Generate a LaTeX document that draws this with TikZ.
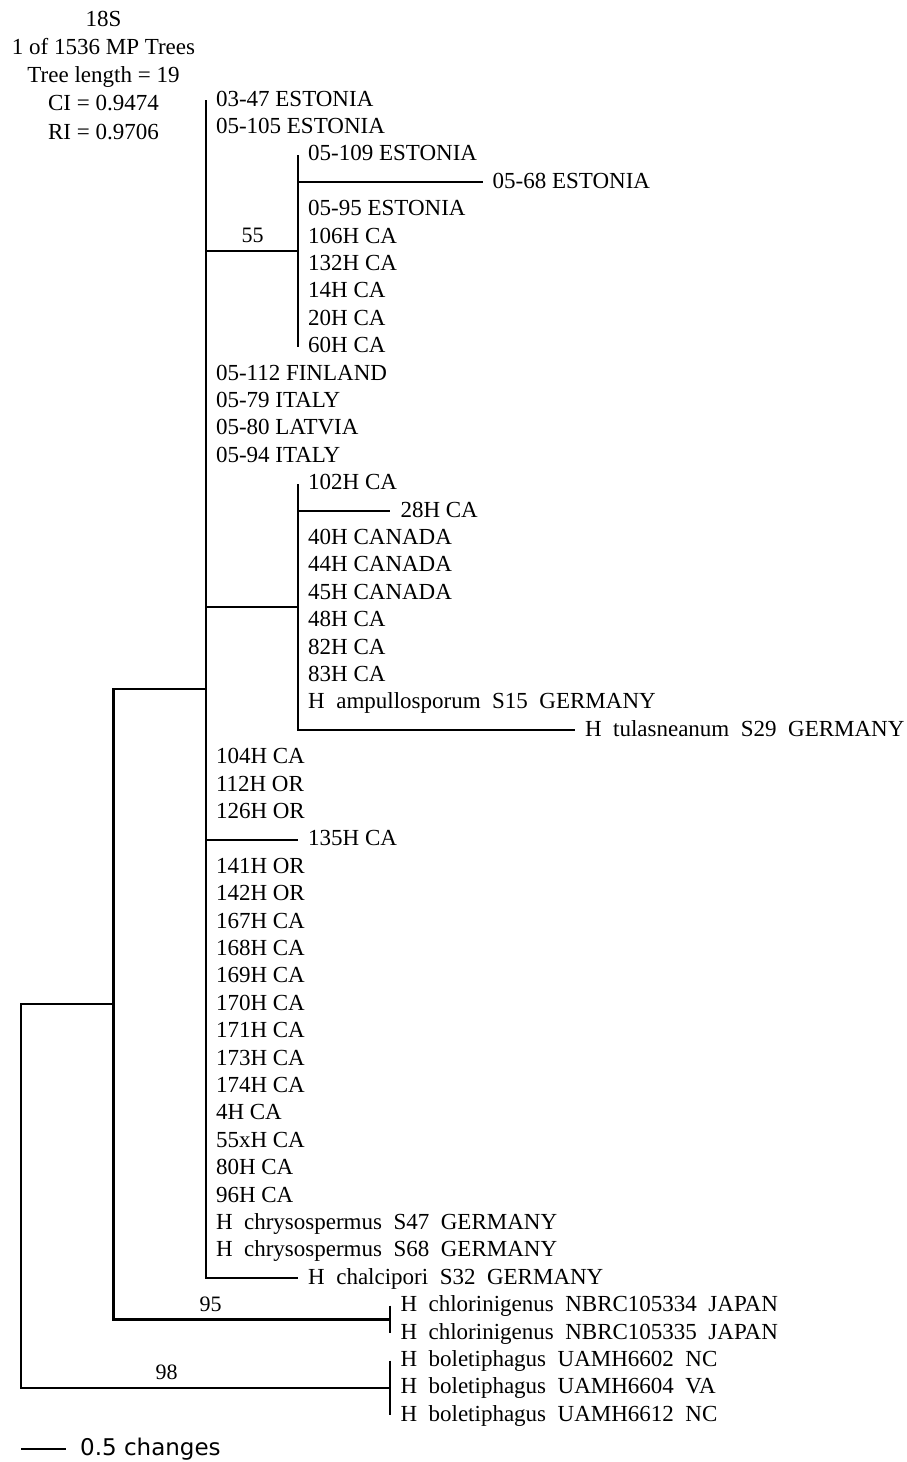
\documentclass[tikz,border=0pt]{standalone}
\usepackage{fontspec}
\setmainfont{Liberation Serif}
\newfontfamily\barfont{DejaVu Sans}

\begin{document}
\begin{tikzpicture}[x=1pt,y=-27.4pt,
	branch/.style={line width=2.2pt},
	leaf/.style={anchor=base west,inner sep=0pt,xshift=10pt,yshift=-6pt,font=\fontsize{23}{27}\selectfont},
	boot/.style={anchor=base,inner sep=0pt,yshift=8pt,font=\fontsize{22}{26}\selectfont},
	head/.style={anchor=base,inner sep=0pt,font=\fontsize{23}{27}\selectfont}]
	\useasboundingbox (0,-2.6533) rectangle (906,50.704);
	% header
	\node[head] (hdname) at (103.5,-1.704) {18S};
	\node[head] (hdtrees) at (103.5,-0.672) {1 of 1536 MP Trees};
	\node[head] (hdlen) at (103.5,0.361) {Tree length = 19};
	\node[head] (hdci) at (103.5,1.394) {CI = 0.9474};
	\node[head] (hdri) at (103.5,2.427) {RI = 0.9706};
	% internal nodes
	\coordinate (root) at (21.3,41);
	\coordinate (ingroup) at (113.5,34);
	\coordinate (main) at (205.8,22.5);
	\coordinate (est) at (298,6.5);
	\coordinate (can) at (298,19.5);
	\coordinate (chl) at (390.3,45.5);
	\coordinate (bol) at (390.3,48);
	% tips
	\coordinate (mainTop) at (205.8,1);
	\coordinate (estTop) at (298,3);
	\coordinate (estBot) at (298,10);
	\coordinate (canTop) at (298,15);
	\coordinate (t68) at (482.5,4);
	\coordinate (t28) at (390.3,16);
	\coordinate (ttul) at (574.8,24);
	\coordinate (t135) at (298,28);
	\coordinate (tchal) at (298,44);
	\coordinate (chlTop) at (390.3,45);
	\coordinate (chlBot) at (390.3,46);
	\coordinate (bolTop) at (390.3,47);
	\coordinate (bolBot) at (390.3,49);
	% branches
	\draw[branch] (root) |- (ingroup) (root) |- (bol);
	\draw[branch] (ingroup) |- (main) (ingroup) |- (chl);
	\draw[branch] (main) -- (mainTop) (main) |- (est) (main) |- (can) (main) |- (t135) (main) |- (tchal);
	\draw[branch] (est) -- (estTop) (est) |- (t68) (est) -- (estBot);
	\draw[branch] (can) -- (canTop) (can) |- (t28) (can) |- (ttul);
	\draw[branch] (chlTop) -- (chlBot);
	\draw[branch] (bolTop) -- (bolBot);
	% support values
	\node[boot] (b55) at (252.5,6.5) {55};
	\node[boot] (b95) at (210.5,45.5) {95};
	\node[boot] (b98) at (166.5,48) {98};
	% leaves
	\node[leaf] (s0347) at (mainTop) {03-47 ESTONIA};
	\node[leaf] (s05105) at (205.8,2) {05-105 ESTONIA};
	\node[leaf] (s05109) at (estTop) {05-109 ESTONIA};
	\node[leaf] (s0568) at (t68) {05-68 ESTONIA};
	\node[leaf] (s0595) at (298,5) {05-95 ESTONIA};
	\node[leaf] (s106) at (298,6) {106H CA};
	\node[leaf] (s132) at (298,7) {132H CA};
	\node[leaf] (s14) at (298,8) {14H CA};
	\node[leaf] (s20) at (298,9) {20H CA};
	\node[leaf] (s60) at (estBot) {60H CA};
	\node[leaf] (s05112) at (205.8,11) {05-112 FINLAND};
	\node[leaf] (s0579) at (205.8,12) {05-79 ITALY};
	\node[leaf] (s0580) at (205.8,13) {05-80 LATVIA};
	\node[leaf] (s0594) at (205.8,14) {05-94 ITALY};
	\node[leaf] (s102) at (canTop) {102H CA};
	\node[leaf] (s28) at (t28) {28H CA};
	\node[leaf] (s40) at (298,17) {40H CANADA};
	\node[leaf] (s44) at (298,18) {44H CANADA};
	\node[leaf] (s45) at (298,19) {45H CANADA};
	\node[leaf] (s48) at (298,20) {48H CA};
	\node[leaf] (s82) at (298,21) {82H CA};
	\node[leaf] (s83) at (298,22) {83H CA};
	\node[leaf] (sampul) at (298,23) {H\enspace ampullosporum\enspace S15\enspace GERMANY};
	\node[leaf] (stulas) at (ttul) {H\enspace tulasneanum\enspace S29\enspace GERMANY};
	\node[leaf] (s104) at (205.8,25) {104H CA};
	\node[leaf] (s112) at (205.8,26) {112H OR};
	\node[leaf] (s126) at (205.8,27) {126H OR};
	\node[leaf] (s135) at (t135) {135H CA};
	\node[leaf] (s141) at (205.8,29) {141H OR};
	\node[leaf] (s142) at (205.8,30) {142H OR};
	\node[leaf] (s167) at (205.8,31) {167H CA};
	\node[leaf] (s168) at (205.8,32) {168H CA};
	\node[leaf] (s169) at (205.8,33) {169H CA};
	\node[leaf] (s170) at (205.8,34) {170H CA};
	\node[leaf] (s171) at (205.8,35) {171H CA};
	\node[leaf] (s173) at (205.8,36) {173H CA};
	\node[leaf] (s174) at (205.8,37) {174H CA};
	\node[leaf] (s4) at (205.8,38) {4H CA};
	\node[leaf] (s55x) at (205.8,39) {55xH CA};
	\node[leaf] (s80) at (205.8,40) {80H CA};
	\node[leaf] (s96) at (205.8,41) {96H CA};
	\node[leaf] (schrysA) at (205.8,42) {H\enspace chrysospermus\enspace S47\enspace GERMANY};
	\node[leaf] (schrysB) at (205.8,43) {H\enspace chrysospermus\enspace S68\enspace GERMANY};
	\node[leaf] (schal) at (tchal) {H\enspace chalcipori\enspace S32\enspace GERMANY};
	\node[leaf] (schlA) at (chlTop) {H\enspace chlorinigenus\enspace NBRC105334\enspace JAPAN};
	\node[leaf] (schlB) at (chlBot) {H\enspace chlorinigenus\enspace NBRC105335\enspace JAPAN};
	\node[leaf] (sbolA) at (bolTop) {H\enspace boletiphagus\enspace UAMH6602\enspace NC};
	\node[leaf] (sbolB) at (390.3,48) {H\enspace boletiphagus\enspace UAMH6604\enspace VA};
	\node[leaf] (sbolC) at (bolBot) {H\enspace boletiphagus\enspace UAMH6612\enspace NC};
	% scale bar
	\coordinate (sbL) at (21,50.23);
	\coordinate (sbR) at (66,50.23);
	\draw[branch] (sbL) -- (sbR);
	\node[anchor=base west,inner sep=0pt,font=\barfont\fontsize{23}{27}\selectfont] (sbtxt) at (80,50.45) {0.5 changes};
\end{tikzpicture}
\end{document}
